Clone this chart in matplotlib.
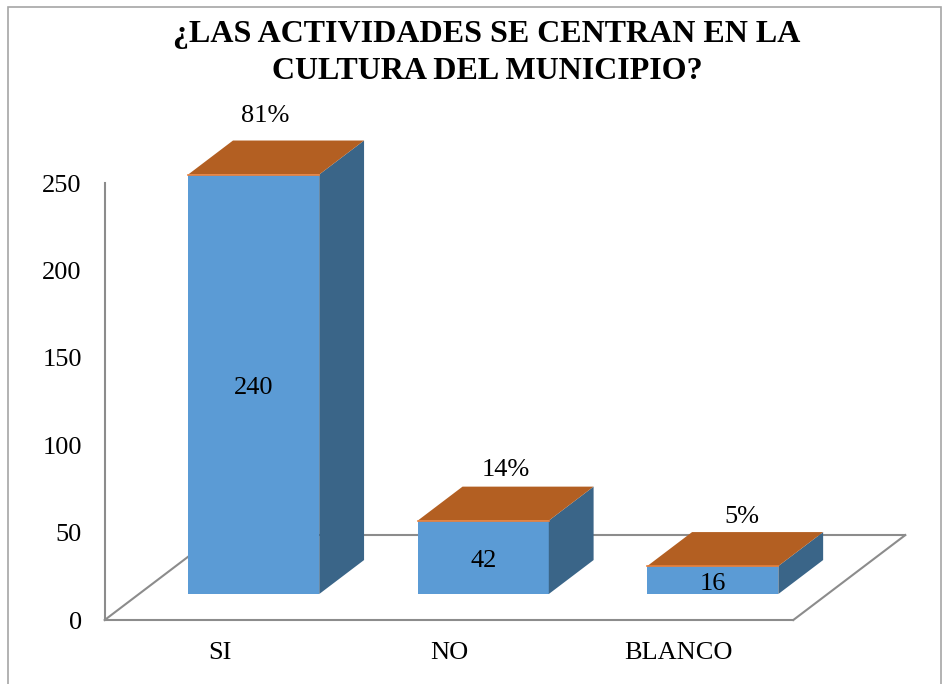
import matplotlib.pyplot as plt
from matplotlib.patches import Polygon, Rectangle

categorias = ['SI', 'NO', 'BLANCO']
valores = [240, 42, 16]
porcentajes = ['81%', '14%', '5%']
ticks_y = [0, 50, 100, 150, 200, 250]
titulo = '¿LAS ACTIVIDADES SE CENTRAN EN LA\nCULTURA DEL MUNICIPIO?'

plt.rcParams['font.family'] = ['Liberation Serif', 'DejaVu Serif']

c_frente = '#5B9BD5'
c_lado = '#3A6588'
c_tapa = '#B35F22'
c_borde_tapa = '#E9803A'
c_eje = '#8C8C8C'

# perspectiva (en unidades de datos)
DX, DY = 0.488, 48.6        # profundidad del piso
f0, f1 = 0.306, 0.706       # fraccion de profundidad donde van las barras
ancho = 0.571

fig = plt.figure(figsize=(9.48, 6.84), dpi=100)
ax = fig.add_axes([0, 0, 1, 1])
ax.set_xlim(-0.956, 3.174)
ax.set_ylim(-36.6, 354.7)
ax.patch.set_visible(False)

# marco exterior
fig.add_artist(Rectangle((8 / 948, -0.05), (941 - 8) / 948, 1.05 - 7 / 684,
                         transform=fig.transFigure, fill=False,
                         edgecolor='#A6A6A6', lw=1.2))

for s in ['top', 'right']:
    ax.spines[s].set_visible(False)
ax.spines['left'].set_position(('data', -0.5))
ax.spines['left'].set_bounds(0, 250)
ax.spines['bottom'].set_position(('data', 0))
ax.spines['bottom'].set_bounds(-0.5, 2.5)
for s in ['left', 'bottom']:
    ax.spines[s].set_color(c_eje)
    ax.spines[s].set_linewidth(1.5)

ax.set_yticks(ticks_y)
ax.set_xticks(range(len(categorias)), categorias)
ax.tick_params(axis='y', length=0, pad=16.5, labelsize=19)
ax.tick_params(axis='x', length=0, pad=16, labelsize=19)

# piso
ax.plot([-0.5, -0.5 + DX], [0, DY], color=c_eje, lw=1.5, zorder=1)
ax.plot([2.5, 2.5 + DX], [0, DY], color=c_eje, lw=1.5, zorder=1)
ax.plot([-0.5 + DX, 2.5 + DX], [DY, DY], color=c_eje, lw=1.5, zorder=1)

bdx, bdy = (f1 - f0) * DX, (f1 - f0) * DY
pct_dx = [-8, 0, 5]
pct_dy = [18, 12, 11]
for i, (v, p) in enumerate(zip(valores, porcentajes)):
    x0 = i - ancho / 2 + f0 * DX
    x1 = x0 + ancho
    y0 = f0 * DY
    y1 = y0 + v
    ax.add_patch(Polygon([(x0, y0), (x1, y0), (x1, y1), (x0, y1)],
                         facecolor=c_frente, edgecolor='none', zorder=3))
    ax.add_patch(Polygon([(x1, y0), (x1 + bdx, y0 + bdy), (x1 + bdx, y1 + bdy), (x1, y1)],
                         facecolor=c_lado, edgecolor='none', zorder=3))
    ax.add_patch(Polygon([(x0, y1), (x1, y1), (x1 + bdx, y1 + bdy), (x0 + bdx, y1 + bdy)],
                         facecolor=c_tapa, edgecolor='none', zorder=3))
    ax.plot([x0, x1], [y1, y1], color=c_borde_tapa, lw=1.2, zorder=4)
    ax.text((x0 + x1) / 2, y0 + v / 2 - 2, str(v), ha='center', va='center',
            fontsize=19, zorder=5)
    ax.annotate(p, ((x0 + x1) / 2 + bdx / 2, y1 + bdy), xytext=(pct_dx[i], pct_dy[i]),
                textcoords='offset points', ha='center', va='center', fontsize=19)

fig.text(487 / 948, 1 - 53 / 684, titulo, ha='center', va='center',
         fontsize=23, fontweight='bold', linespacing=1.34)

fig.savefig('out.png', dpi=100)
